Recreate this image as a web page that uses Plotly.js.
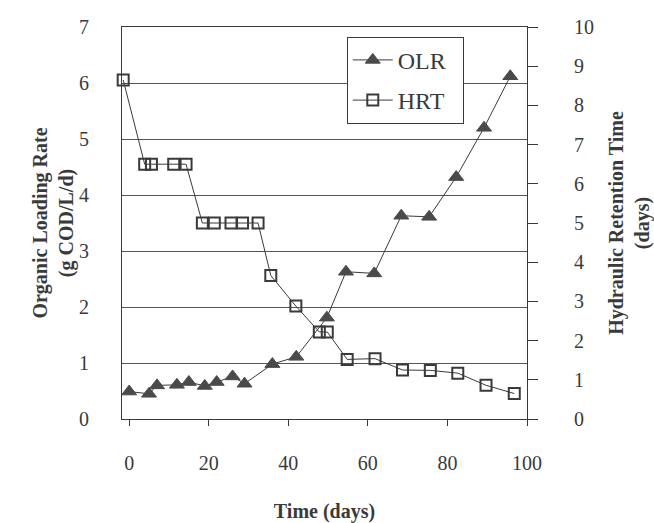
<!DOCTYPE html>
<html>
<head>
<meta charset="utf-8">
<script src="https://cdn.plot.ly/plotly-3.0.1.min.js"></script>
<style>html,body{margin:0;padding:0;background:#fff;}#chart{width:654px;height:523px;}</style>
</head>
<body>
<div id="chart"></div>
<script>
// OLR series (left axis)
const olrDays = [0, 5, 7, 12, 15, 19, 22, 26, 29, 36, 42, 49.7, 54.5, 61.6, 68.4, 75.4, 82.2, 89.2, 95.8];
const olrValues = [0.49, 0.45, 0.60, 0.61, 0.66, 0.59, 0.66, 0.76, 0.63, 0.98, 1.11, 1.81, 2.63, 2.60, 3.63, 3.61, 4.32, 5.20, 6.12];
// HRT series (right axis)
const hrtDays = [-1.5, 3.9, 5.6, 11.2, 14.3, 18.4, 21.4, 25.6, 28.5, 32.4, 35.6, 41.9, 47.8, 49.8, 54.8, 61.8, 68.7, 75.7, 82.6, 89.7, 96.8];
const hrtValues = [8.65, 6.5, 6.5, 6.5, 6.5, 5.0, 5.0, 5.0, 5.0, 5.0, 3.66, 2.88, 2.22, 2.22, 1.52, 1.54, 1.25, 1.24, 1.17, 0.86, 0.65];
const xTicks = [0, 20, 40, 60, 80, 100];
const leftTicks = [0, 1, 2, 3, 4, 5, 6, 7];
const rightTicks = [0, 1, 2, 3, 4, 5, 6, 7, 8, 9, 10];

const ink = '#3a3a3a';
const serif = 'Liberation Serif, Times New Roman, serif';

const traces = [
  {
    x: olrDays, y: olrValues, name: 'OLR\u00a0\u00a0', type: 'scatter', mode: 'lines+markers',
    legendgroup: 'olr',
    line: {color: ink, width: 1},
    marker: {symbol: 'triangle-up', size: 13, color: '#4a4a4a', line: {color: '#4a4a4a', width: 1}},
    cliponaxis: false
  },
  {
    x: hrtDays, y: hrtValues, name: 'HRT\u00a0\u00a0', type: 'scatter', mode: 'lines+markers', yaxis: 'y2',
    legendgroup: 'hrt',
    line: {color: ink, width: 1},
    marker: {symbol: 'square-open', size: 11, color: ink, line: {color: ink, width: 2}},
    cliponaxis: false
  }
];

const layout = {
  width: 654, height: 523,
  margin: {l: 122, r: 127, t: 27, b: 104},
  paper_bgcolor: '#fff', plot_bgcolor: '#fff',
  font: {family: serif, color: ink, size: 20},
  showlegend: true,
  legend: {
    x: 0.555, y: 0.975, xanchor: 'left', yanchor: 'top',
    bgcolor: '#fff', bordercolor: ink, borderwidth: 1,
    font: {family: serif, size: 24, color: ink},
    traceorder: 'grouped', tracegroupgap: 6,
    itemwidth: 40
  },
  xaxis: {
    range: [-1.8, 100], tickvals: xTicks, ticktext: xTicks.map(String),
    showgrid: false, zeroline: false,
    showline: true, linecolor: ink, linewidth: 1, mirror: true,
    ticks: 'outside', ticklen: 6, tickcolor: ink,
    ticklabelstandoff: 20,
    tickfont: {family: serif, size: 20, color: ink},
    title: {text: '<b>Time (days)</b>', font: {family: serif, size: 20, color: ink}, standoff: 30}
  },
  yaxis: {
    range: [0, 7], tickvals: leftTicks, ticktext: leftTicks.map(String),
    showgrid: true, gridcolor: '#555', gridwidth: 1, zeroline: false,
    showline: true, linecolor: ink, linewidth: 1,
    ticks: '', ticklabelstandoff: 28,
    tickfont: {family: serif, size: 20, color: ink},
    title: {text: '<b>Organic Loading Rate<br>(g COD/L/d)</b>', font: {family: serif, size: 20, color: ink}, standoff: 0}
  },
  yaxis2: {
    range: [0, 10], tickvals: rightTicks, ticktext: rightTicks.map(String),
    overlaying: 'y', side: 'right',
    showgrid: false, zeroline: false,
    showline: true, linecolor: ink, linewidth: 1,
    ticks: 'outside', ticklen: 10, tickcolor: ink,
    ticklabelstandoff: 32,
    tickfont: {family: serif, size: 20, color: ink},
    title: {text: '<b>Hydraulic Retention Time<br>(days)</b>', font: {family: serif, size: 20, color: ink}, standoff: 16}
  }
};

Plotly.newPlot('chart', traces, layout, {displayModeBar: false, staticPlot: true});
</script>
</body>
</html>
